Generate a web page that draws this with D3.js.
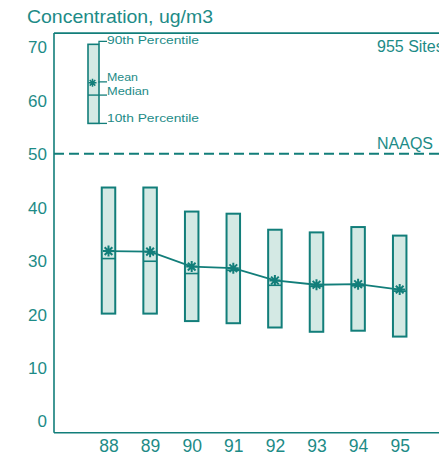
<!DOCTYPE html>
<html>
<head>
<meta charset="utf-8">
<script src="https://cdn.jsdelivr.net/npm/d3@7"></script>
<style>
  html, body { margin: 0; padding: 0; background: #fff; }
  svg { display: block; }
  text { font-family: "Liberation Sans", Arial, Helvetica, sans-serif; fill: #1d8b87; }
</style>
</head>
<body>
<svg id="chart" width="439" height="457"></svg>
<script>
// Annual PM10 concentration distributions, 955 sites
const years   = ["88", "89", "90", "91", "92", "93", "94", "95"];
const p90     = [43.7, 43.7, 39.2, 38.8, 35.8, 35.3, 36.3, 34.7];
const p10     = [20.1, 20.1, 18.7, 18.3, 17.5, 16.7, 16.9, 15.8];
const means   = [31.8, 31.7, 28.9, 28.6, 26.3, 25.5, 25.6, 24.6];
const medians = [30.4, 29.9, 27.6, 28.2, 25.4, 25.2, 25.3, 24.3];
const yTicks  = [0, 10, 20, 30, 40, 50, 60, 70];
const naaqs   = 50;
// Key box values
const keyVals = { p90: 70.5, mean: 63.3, median: 61.0, p10: 55.7 };

const TEAL = "#127e7a";
const FILL = "#d4e9e4";

const svg = d3.select("#chart");

const y = d3.scaleLinear().domain([0, 70]).range([421, 47]);
const x = d3.scalePoint().domain(years).range([108.5, 399.7]);
const boxW = 13.5;
const yTop = 72.6, yBottom = -2.2;

// Frame: left axis, bottom axis, top rule
const frame = svg.append("g").attr("stroke", TEAL).attr("stroke-width", 1.6).attr("fill", "none");
frame.append("line").attr("x1", 54).attr("x2", 54).attr("y1", y(yTop)).attr("y2", y(yBottom));
frame.append("line").attr("x1", 54).attr("x2", 439).attr("y1", y(yBottom)).attr("y2", y(yBottom));
frame.append("line").attr("x1", 54).attr("x2", 439).attr("y1", y(yTop)).attr("y2", y(yTop));

// Y axis labels (no tick marks)
const yAxis = d3.axisLeft(y).tickValues(yTicks).tickSize(0).tickPadding(0);
const yg = svg.append("g").attr("transform", "translate(47,0)").call(yAxis);
yg.select(".domain").remove();
yg.selectAll("text").attr("font-size", 17).attr("font-family", null).attr("fill", "#1d8b87").attr("dy", "0.35em");

// X axis labels
const xAxis = d3.axisBottom(x).tickSize(0).tickPadding(0);
const xg = svg.append("g").attr("transform", "translate(0,440)").call(xAxis);
xg.select(".domain").remove();
xg.selectAll("text").attr("font-size", 17.5).attr("font-family", null).attr("fill", "#1d8b87").attr("dy", "0.71em");

// Title
svg.append("text").attr("x", 27).attr("y", 23).attr("font-size", 18.5)
  .attr("textLength", 186).attr("lengthAdjust", "spacingAndGlyphs")
  .text("Concentration, ug/m3");
svg.append("text").attr("x", 377).attr("y", 52).attr("font-size", 16).text("955 Sites");

// NAAQS reference line
svg.append("line")
  .attr("x1", 54).attr("x2", 439).attr("y1", y(naaqs)).attr("y2", y(naaqs))
  .attr("stroke", TEAL).attr("stroke-width", 2).attr("stroke-dasharray", "10,5");
svg.append("text").attr("x", 377).attr("y", y(naaqs) - 5).attr("font-size", 16).text("NAAQS");

// Asterisk marker for the mean
function star(g, cx, cy, r, w) {
  const p = d3.path();
  p.moveTo(cx, cy - r); p.lineTo(cx, cy + r);
  p.moveTo(cx - r, cy); p.lineTo(cx + r, cy);
  const d = r * 0.7;
  p.moveTo(cx - d, cy - d); p.lineTo(cx + d, cy + d);
  p.moveTo(cx - d, cy + d); p.lineTo(cx + d, cy - d);
  g.append("path").attr("d", p.toString()).attr("stroke", TEAL).attr("stroke-width", w).attr("fill", "none");
}

// Boxes (10th to 90th percentile) with median line
const rows = years.map((yr, i) => ({ yr, p90: p90[i], p10: p10[i], mean: means[i], median: medians[i] }));
const boxes = svg.append("g");
rows.forEach(d => {
  const cx = x(d.yr);
  boxes.append("rect")
    .attr("x", cx - boxW / 2).attr("y", y(d.p90))
    .attr("width", boxW).attr("height", y(d.p10) - y(d.p90))
    .attr("fill", FILL).attr("stroke", TEAL).attr("stroke-width", 2);
  boxes.append("line")
    .attr("x1", cx - boxW / 2).attr("x2", cx + boxW / 2)
    .attr("y1", y(d.median)).attr("y2", y(d.median))
    .attr("stroke", TEAL).attr("stroke-width", 1.6);
});

// Line through the means
svg.append("path")
  .datum(rows)
  .attr("d", d3.line().x(d => x(d.yr)).y(d => y(d.mean)))
  .attr("fill", "none").attr("stroke", TEAL).attr("stroke-width", 1.8);
const marks = svg.append("g");
rows.forEach(d => star(marks, x(d.yr), y(d.mean), 5.5, 2));

// Key box
const kx = 93.5, kw = 11;
const key = svg.append("g");
key.append("rect")
  .attr("x", kx - kw / 2).attr("y", y(keyVals.p90))
  .attr("width", kw).attr("height", y(keyVals.p10) - y(keyVals.p90))
  .attr("fill", FILL).attr("stroke", TEAL).attr("stroke-width", 1.6);
key.append("line")
  .attr("x1", kx - kw / 2).attr("x2", kx + kw / 2)
  .attr("y1", y(keyVals.median)).attr("y2", y(keyVals.median))
  .attr("stroke", TEAL).attr("stroke-width", 1.4);
star(key, kx - 1, y(keyVals.mean), 4, 1.5);

const leaders = [
  { label: "90th Percentile", v: keyVals.p90, ly: y(keyVals.p90) - 3, ty: 44, w: 92 },
  { label: "Mean",            v: keyVals.mean, ly: y(keyVals.mean) - 1, ty: 81, w: 31 },
  { label: "Median",          v: keyVals.median, ly: y(keyVals.median), ty: 95, w: 42 },
  { label: "10th Percentile", v: keyVals.p10, ly: y(keyVals.p10), ty: 122, w: 92 }
];
leaders.forEach(l => {
  key.append("path")
    .attr("d", `M${kx + kw / 2},${y(l.v)}L${kx + kw / 2},${l.ly}L${kx + kw / 2 + 8},${l.ly}`)
    .attr("stroke", TEAL).attr("stroke-width", 1.3).attr("fill", "none");
  key.append("text")
    .attr("x", kx + kw / 2 + 8).attr("y", l.ty)
    .attr("font-size", 10.5)
    .attr("textLength", l.w).attr("lengthAdjust", "spacingAndGlyphs")
    .text(l.label);
});
</script>
</body>
</html>
